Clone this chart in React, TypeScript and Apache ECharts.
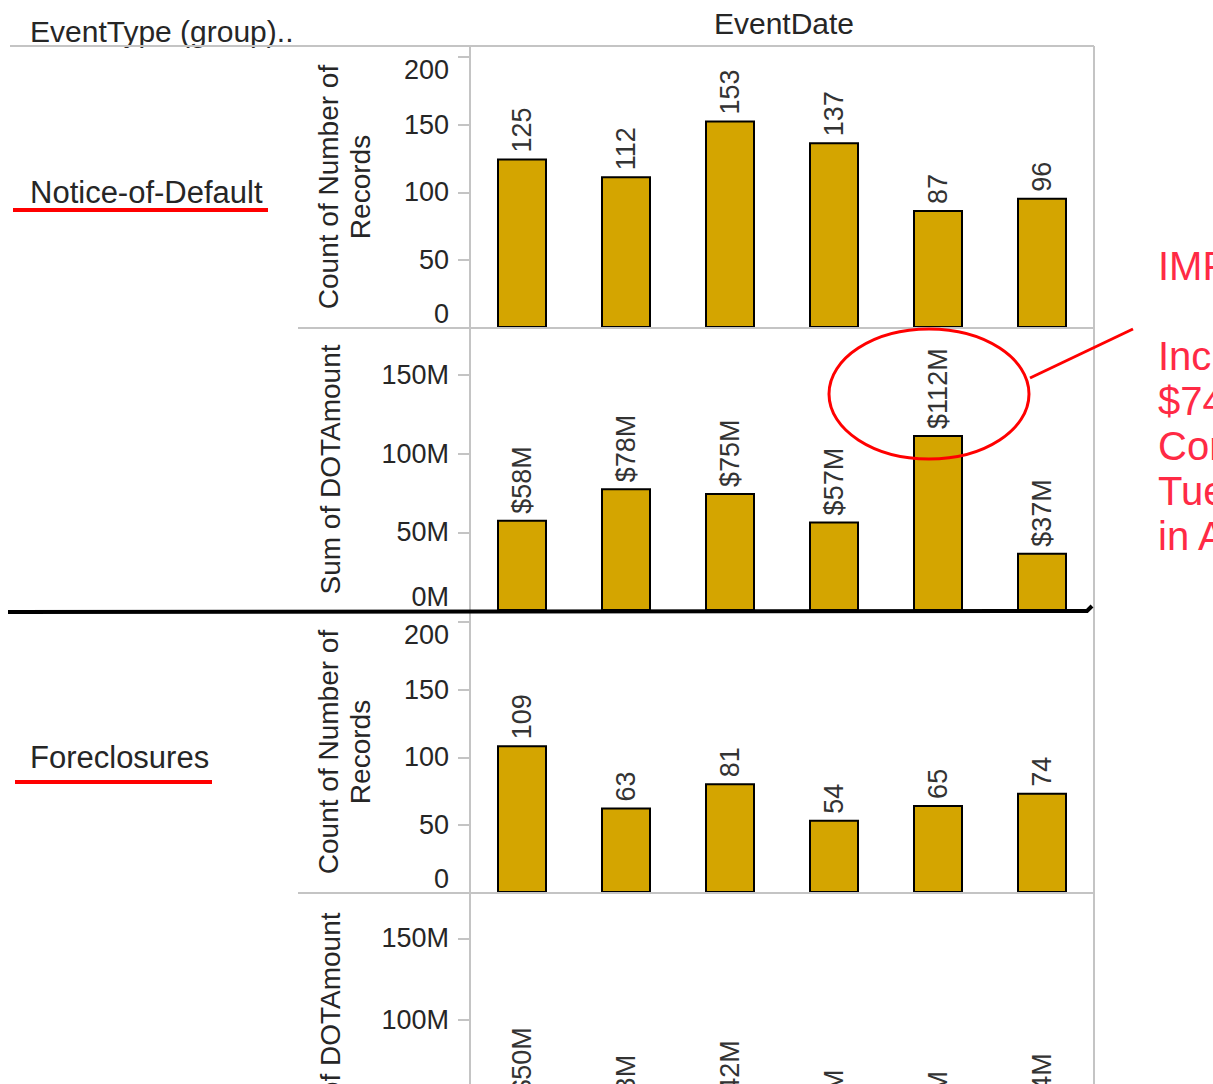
import { useEffect, useRef } from "react";
import * as echarts from "echarts";

// Event dates along the horizontal axis (labels are not displayed)
const eventDates = ["Jan", "Feb", "Mar", "Apr", "May", "Jun"];

// Notice-of-Default
const noticeCounts = [125, 112, 153, 137, 87, 96];
const noticeAmountsM = [58, 78, 75, 57, 112, 37];

// Foreclosures
const foreclosureCounts = [109, 63, 81, 54, 65, 74];
const foreclosureAmountsM = [50, 33, 42, 24, 23, 34];

const countTickLabels = [0, 50, 100, 150, 200];
const amountTickLabels = [0, 50, 100, 150];

const rowHeaders = ["Notice-of-Default", "Foreclosures"];
const noteLines = ["IMPORTANT", "", "Increase of", "$74M in", "Compared to", "Tuesday", "in April"];

const FONT = "'Liberation Sans', Arial, sans-serif";
const BAR = "#d4a500";
const GRID_LINE = "#c4c4c4";
const TEXT = "#262626";
const RED = "#ff2a45";

type Panel = {
  top: number;
  height: number;
  max: number;
  kind: "count" | "amount";
  data: number[];
};

const panels: Panel[] = [
  { top: 46, height: 282, max: 208, kind: "count", data: noticeCounts },
  { top: 328, height: 283, max: 180, kind: "amount", data: noticeAmountsM },
  { top: 611, height: 282, max: 208, kind: "count", data: foreclosureCounts },
  { top: 893, height: 289, max: 178, kind: "amount", data: foreclosureAmountsM },
];

const PLOT_LEFT = 470;
const PLOT_RIGHT = 1094;

function buildOption(): echarts.EChartsOption {
  const grid = panels.map((p) => ({
    left: PLOT_LEFT,
    top: p.top,
    width: PLOT_RIGHT - PLOT_LEFT,
    height: p.height,
    outerBoundsMode: "none",
    containLabel: false,
  }));

  const xAxis = panels.map((_, i) => ({
    type: "category" as const,
    gridIndex: i,
    data: eventDates,
    boundaryGap: true,
    axisLine: { show: false },
    axisTick: { show: false },
    axisLabel: { show: false },
    splitLine: { show: false },
  }));

  const labelStyle = { fontSize: 27, fontFamily: FONT, color: TEXT };

  const yAxis = panels.map((p, i) => {
    const ticks = p.kind === "count" ? countTickLabels : amountTickLabels;
    const top = ticks[ticks.length - 1];
    return {
      type: "value" as const,
      gridIndex: i,
      min: 0,
      max: p.max,
      interval: 50,
      splitLine: { show: false },
      axisLine: { show: true, lineStyle: { color: GRID_LINE, width: 2 } },
      axisTick: { show: true, length: 12, lineStyle: { color: GRID_LINE, width: 2 } },
      axisLabel: {
        margin: 21,
        ...labelStyle,
        formatter: (v: number) => {
          if (ticks.indexOf(v) < 0) return "";
          const txt = p.kind === "amount" ? `${v}M` : `${v}`;
          if (v === 0) return `{lo|${txt}}`;
          if (p.kind === "count" && v === top) return `{hi|${txt}}`;
          return `{n|${txt}}`;
        },
        rich: {
          n: { ...labelStyle },
          lo: { ...labelStyle, padding: [0, 0, 28, 0] },
          hi: { ...labelStyle, padding: [26, 0, 0, 0] },
        },
      },
      name: p.kind === "count" ? "Count of Number of\nRecords" : "Sum of DOTAmount",
      nameLocation: "middle" as const,
      nameRotate: 90,
      nameGap: p.kind === "count" ? 94 : 124,
      nameTextStyle: { fontSize: 28, lineHeight: 32, fontFamily: FONT, color: TEXT },
    };
  });

  const series = panels.map((p, i) => ({
    type: "bar" as const,
    xAxisIndex: i,
    yAxisIndex: i,
    data: p.data,
    barWidth: 50,
    itemStyle: { color: BAR, borderColor: "#000", borderWidth: 2 },
    label: {
      show: true,
      position: "top" as const,
      rotate: 90,
      align: "left" as const,
      verticalAlign: "middle" as const,
      distance: 6,
      fontSize: 27,
      fontFamily: FONT,
      color: "#333",
      formatter: (prm: any) => (p.kind === "amount" ? `$${prm.value}M` : `${prm.value}`),
    },
  }));

  const hLine = (x1: number, x2: number, y: number, color = GRID_LINE, w = 2) => ({
    type: "line",
    shape: { x1, y1: y, x2, y2: y },
    style: { stroke: color, lineWidth: w },
    z: 5,
  });

  const graphic: any[] = [
    // column / row headers
    {
      type: "text",
      x: 30,
      y: 31,
      style: { text: "EventType (group)..", font: `30px ${FONT}`, fill: TEXT, verticalAlign: "middle" },
    },
    {
      type: "text",
      x: 784,
      y: 23,
      style: { text: "EventDate", font: `30px ${FONT}`, fill: TEXT, align: "center", verticalAlign: "middle" },
    },
    hLine(10, PLOT_RIGHT, 46),
    hLine(298, PLOT_RIGHT, 328),
    hLine(298, PLOT_RIGHT, 893),
    {
      type: "line",
      shape: { x1: PLOT_RIGHT, y1: 46, x2: PLOT_RIGHT, y2: 1084 },
      style: { stroke: GRID_LINE, lineWidth: 2 },
      z: 5,
    },
    // row labels with red underlines
    {
      type: "text",
      x: 30,
      y: 192,
      style: { text: rowHeaders[0], font: `31px ${FONT}`, fill: TEXT, verticalAlign: "middle" },
    },
    hLine(13, 268, 210, "#ff0000", 4),
    {
      type: "text",
      x: 30,
      y: 757,
      style: { text: rowHeaders[1], font: `31px ${FONT}`, fill: TEXT, verticalAlign: "middle" },
    },
    hLine(15, 212, 782, "#ff0000", 4),
    // divider between the two event groups
    {
      type: "polyline",
      shape: { points: [[8, 612], [1087, 611], [1092, 606]] },
      style: { stroke: "#000", lineWidth: 4, fill: "none" },
      z: 20,
    },
    // callout around the $112M bar
    {
      type: "ellipse",
      shape: { cx: 929, cy: 394, rx: 100, ry: 65 },
      style: { fill: "none", stroke: "#ff0000", lineWidth: 3 },
      z: 30,
    },
    {
      type: "line",
      shape: { x1: 1030, y1: 378, x2: 1133, y2: 329 },
      style: { stroke: "#ff0000", lineWidth: 3 },
      z: 30,
    },
    {
      type: "text",
      x: 1158,
      y: 243,
      style: {
        text: noteLines.join("\n"),
        font: `40px ${FONT}`,
        lineHeight: 45,
        fill: RED,
        verticalAlign: "top",
      },
      z: 30,
    },
  ];

  return {
    animation: false,
    backgroundColor: "#ffffff",
    textStyle: { fontFamily: FONT },
    grid,
    xAxis,
    yAxis,
    series,
    graphic,
  } as any;
}

export default function App() {
  const ref = useRef<HTMLDivElement>(null);

  useEffect(() => {
    if (!ref.current) return;
    const chart = echarts.init(ref.current, undefined, { renderer: "svg" });
    chart.setOption(buildOption());
    return () => chart.dispose();
  }, []);

  return (
    <div
      ref={ref}
      style={{ position: "absolute", left: 0, top: 0, width: 1213, height: 1084, background: "#fff" }}
    />
  );
}
